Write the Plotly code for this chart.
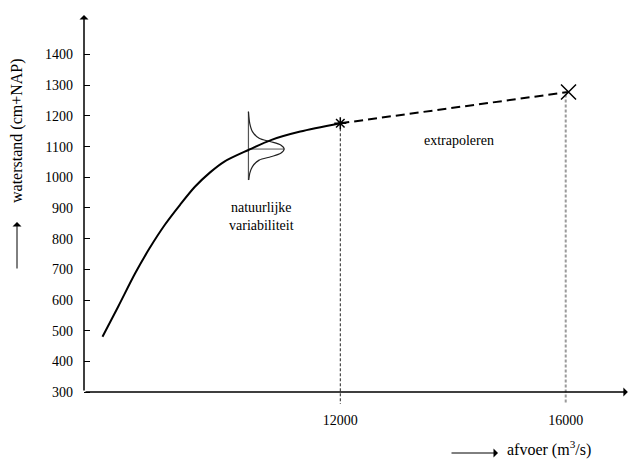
import plotly.graph_objects as go

# Rating curve: discharge (m3/s) against water level (cm+NAP)
afvoer_curve = [7780, 8060, 8360, 8620, 8890, 9160, 9420, 9690, 9950, 10370, 10780, 11290, 12000]
waterstand_curve = [480, 579, 687, 770, 846, 911, 969, 1016, 1052, 1089, 1122, 1149, 1176]

# Extrapolated part of the curve
afvoer_extra = [12000, 16050]
waterstand_extra = [1176, 1278]

# Natural variability of the water level around one point of the curve
var_afvoer = 10370
var_center = 1092
var_waterstand = [1214, 1176, 1149, 1127, 1116, 1105, 1092, 1078, 1067, 1056, 1035, 1013, 991]
var_spread = [0, 23, 71, 190, 396, 573, 634, 573, 396, 190, 71, 23, 5]

x_ticks = [12000, 16000]
y_ticks = [300, 400, 500, 600, 700, 800, 900, 1000, 1100, 1200, 1300, 1400]

x_lo, x_hi = 7452, 17123
y_floor, y_axis0, y_top = 261, 300, 1529

FONT = "Liberation Serif"
W, H = 629, 460
M_L, M_R, M_T, M_B = 84, 0, 15, 56


def paper_x(px):
    return (px - M_L) / (W - M_L - M_R)


def paper_y(py):
    return (H - M_B - py) / (H - M_T - M_B)


fig = go.Figure()

# variability distribution
fig.add_trace(go.Scatter(
    x=[var_afvoer, var_afvoer], y=[min(var_waterstand), max(var_waterstand)],
    mode="lines", line=dict(color="#555555", width=1.2), hoverinfo="skip"))
fig.add_trace(go.Scatter(
    x=[var_afvoer, var_afvoer + max(var_spread)], y=[var_center, var_center],
    mode="lines", line=dict(color="#555555", width=1), hoverinfo="skip"))
fig.add_trace(go.Scatter(
    x=[var_afvoer + s for s in var_spread], y=var_waterstand,
    mode="lines", line=dict(color="#222222", width=1.2, shape="spline", smoothing=0.8),
    hoverinfo="skip"))

# vertical reference lines at the marked discharges
fig.add_trace(go.Scatter(
    x=[x_ticks[0], x_ticks[0]], y=[waterstand_extra[0], y_floor],
    mode="lines", line=dict(color="#222222", width=1, dash="3px,2px"), hoverinfo="skip"))
fig.add_trace(go.Scatter(
    x=[x_ticks[1], x_ticks[1]], y=[waterstand_extra[1] - 8, y_floor],
    mode="lines", line=dict(color="#9a9a9a", width=2, dash="3px,2px"), hoverinfo="skip"))

# rating curve
fig.add_trace(go.Scatter(
    x=afvoer_curve, y=waterstand_curve, mode="lines",
    line=dict(color="black", width=2, shape="spline", smoothing=0.8), hoverinfo="skip"))

# extrapolation
fig.add_trace(go.Scatter(
    x=afvoer_extra, y=waterstand_extra, mode="lines",
    line=dict(color="black", width=2, dash="9px,5px"), hoverinfo="skip"))
fig.add_trace(go.Scatter(
    x=[afvoer_extra[0]], y=[waterstand_extra[0]], mode="markers",
    marker=dict(symbol="asterisk-open", size=10, color="black",
                line=dict(color="black", width=1.5)),
    hoverinfo="skip"))
fig.add_trace(go.Scatter(
    x=[afvoer_extra[1]], y=[waterstand_extra[1]], mode="markers",
    marker=dict(symbol="x-thin-open", size=15, color="black",
                line=dict(color="black", width=1.5)),
    hoverinfo="skip"))

annotations = [
    # axes with arrow heads
    dict(x=x_lo, y=y_top, ax=x_lo, ay=y_axis0, xref="x", yref="y", axref="x", ayref="y",
         text="", showarrow=True, arrowhead=1, arrowsize=1, arrowwidth=1.5,
         arrowcolor="black", standoff=0, startstandoff=0),
    dict(x=x_hi - 20, y=y_axis0, ax=x_lo, ay=y_axis0, xref="x", yref="y", axref="x", ayref="y",
         text="", showarrow=True, arrowhead=1, arrowsize=1, arrowwidth=1.5,
         arrowcolor="black", standoff=0, startstandoff=0),
    # axis titles with their arrows
    dict(x=paper_x(17), y=paper_y(131), xref="paper", yref="paper",
         xanchor="center", yanchor="middle",
         text="waterstand (cm+NAP)", textangle=-90, showarrow=False,
         font=dict(family=FONT, size=16, color="black")),
    dict(x=paper_x(17), y=paper_y(222), ax=0, ay=48, xref="paper", yref="paper",
         axref="pixel", ayref="pixel",
         text="", showarrow=True, arrowhead=1, arrowsize=1.5, arrowwidth=1,
         arrowcolor="black", standoff=0),
    dict(x=paper_x(498), y=paper_y(453), ax=-48, ay=0, xref="paper", yref="paper",
         axref="pixel", ayref="pixel",
         text="", showarrow=True, arrowhead=1, arrowsize=1.5, arrowwidth=1,
         arrowcolor="black", standoff=0),
    dict(x=paper_x(505), y=paper_y(449), xref="paper", yref="paper",
         xanchor="left", yanchor="middle",
         text="afvoer (m<sup>3</sup>/s)", showarrow=False,
         font=dict(family=FONT, size=16, color="black")),
    # labels in the plot
    dict(x=14100, y=1120, xref="x", yref="y", text="extrapoleren", showarrow=False,
         font=dict(family=FONT, size=14, color="black")),
    dict(x=10600, y=872, xref="x", yref="y", text="natuurlijke<br>variabiliteit",
         showarrow=False, font=dict(family=FONT, size=14, color="black")),
]

fig.update_layout(
    width=W, height=H,
    margin=dict(l=M_L, r=M_R, t=M_T, b=M_B, pad=0),
    paper_bgcolor="white", plot_bgcolor="white",
    showlegend=False,
    font=dict(family=FONT, size=14, color="black"),
    annotations=annotations,
    xaxis=dict(range=[x_lo, x_hi], tickvals=x_ticks, ticktext=[str(v) for v in x_ticks],
               showgrid=False, zeroline=False, showline=False, ticks="",
               ticklabelstandoff=6,
               tickfont=dict(family=FONT, size=14, color="black")),
    yaxis=dict(range=[y_floor, y_top], tickvals=y_ticks, ticktext=[str(v) for v in y_ticks],
               showgrid=False, zeroline=False, showline=False, ticks="inside",
               ticklen=6, tickwidth=1, tickcolor="black", ticklabelstandoff=10,
               tickfont=dict(family=FONT, size=14, color="black")),
)

fig.write_html("out.html")
